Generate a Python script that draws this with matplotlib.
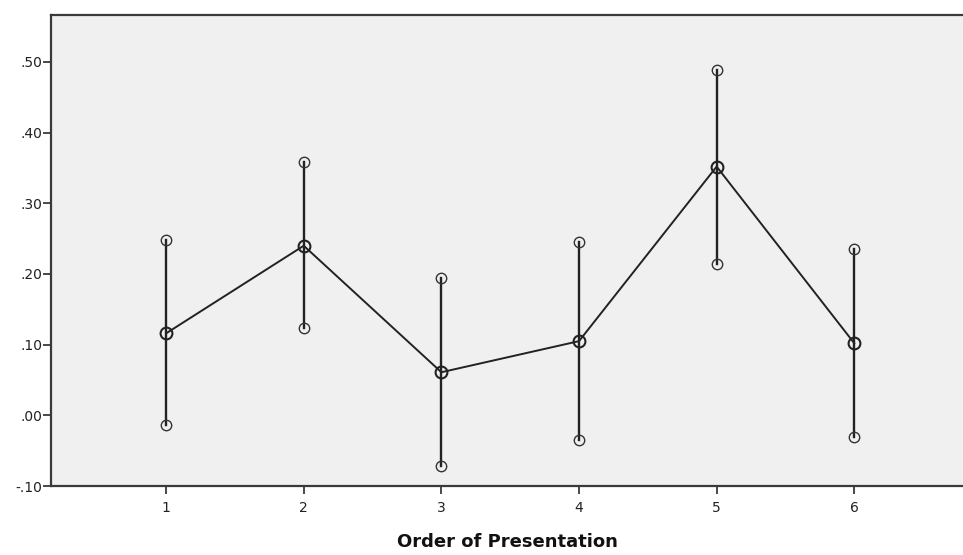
import matplotlib
matplotlib.use("Agg")
import matplotlib.pyplot as plt
import numpy as np

# Mean score and error-bar limits for each presentation position
order = [1, 2, 3, 4, 5, 6]
means = [0.116, 0.240, 0.061, 0.105, 0.352, 0.102]
upper = [0.248, 0.358, 0.194, 0.245, 0.489, 0.236]
lower = [-0.014, 0.124, -0.071, -0.035, 0.214, -0.031]
y_ticks = [-0.10, 0.00, 0.10, 0.20, 0.30, 0.40, 0.50]
y_tick_labels = ["-.10", ".00", ".10", ".20", ".30", ".40", ".50"]

plt.rcParams["font.family"] = ["DejaVu Sans"]

fig = plt.figure(figsize=(9.63, 5.55), dpi=100)
ax = fig.add_axes([0.053, 0.1243, 0.947, 0.8487])
ax.set_facecolor("#f0f0f0")

ink = "#222222"
for x, lo, hi in zip(order, lower, upper):
    ax.plot([x, x], [lo, hi], color=ink, lw=1.7, zorder=2)
    ax.plot([x, x], [lo, hi], ls="none", marker="o", ms=7.5, mfc="none",
            mec="#333333", mew=1.0, zorder=3)

ax.plot(order, means, color=ink, lw=1.4, zorder=2)
ax.plot(order, means, ls="none", marker="o", ms=8.5, mfc="none",
        mec=ink, mew=1.5, zorder=4)

ax.set_xlim(0.164, 6.79)
ax.set_ylim(-0.10, 0.5665)
ax.set_xticks(order)
ax.set_xticklabels([str(o) for o in order])
ax.set_yticks(y_ticks)
ax.set_yticklabels(y_tick_labels)

for side in ("left", "bottom", "top"):
    ax.spines[side].set_color("#3a3a3a")
    ax.spines[side].set_linewidth(1.6)
ax.spines["right"].set_visible(False)

ax.tick_params(axis="both", direction="out", length=6, width=1.3,
               color="#3a3a3a", labelsize=10, labelcolor="#222222")
ax.tick_params(axis="y", pad=0)
ax.tick_params(axis="x", pad=5)

ax.set_xlabel("Order of Presentation", fontsize=13, fontweight="bold",
              color="#111111", labelpad=13)

fig.savefig("out.png", dpi=100, facecolor="white")
